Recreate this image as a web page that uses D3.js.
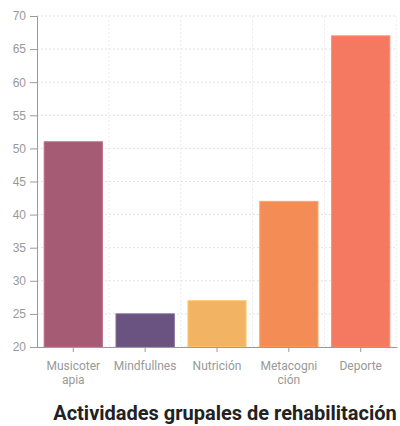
<!DOCTYPE html>
<html>
<head>
<meta charset="utf-8">
<script src="https://cdn.jsdelivr.net/npm/d3@7"></script>
<style>
  html, body { margin: 0; padding: 0; background: #fff; }
  svg { display: block; font-family: Roboto, "Liberation Sans", sans-serif; }
</style>
</head>
<body>
<svg id="chart" width="400" height="426"></svg>
<script>
// Activities and participant counts
const categories = ["Musicoterapia", "Mindfullnes", "Nutrición", "Metacognición", "Deporte"];
const labelLines = [["Musicoter", "apia"], ["Mindfullnes"], ["Nutrición"], ["Metacogni", "ción"], ["Deporte"]];
const values = [51, 25, 27, 42, 67];
const colors = ["#a65b74", "#6a5380", "#f2b363", "#f38d55", "#f57861"];
const yTicks = [20, 25, 30, 35, 40, 45, 50, 55, 60, 65, 70];
const title = "Actividades grupales de rehabilitación";

const svg = d3.select("#chart");
const margin = { left: 37, right: 3, top: 16, bottom: 79 };
const W = 400, H = 426;

const x = d3.scaleBand()
  .domain(categories)
  .range([margin.left, W - margin.right])
  .paddingInner(0.19)
  .paddingOuter(0.1);

const y = d3.scaleLinear()
  .domain([20, 70])
  .range([H - margin.bottom, margin.top]);

// Horizontal gridlines
svg.append("g")
  .selectAll("line")
  .data(yTicks)
  .join("line")
  .attr("x1", margin.left)
  .attr("x2", W - margin.right)
  .attr("y1", d => y(d))
  .attr("y2", d => y(d))
  .attr("stroke", "#e2e2e2")
  .attr("stroke-dasharray", "2,2");

// Vertical gridlines at band boundaries
const step = x.step();
const boundaries = categories.map((c, i) => margin.left + step * (i + 1));
svg.append("g")
  .selectAll("line")
  .data(boundaries)
  .join("line")
  .attr("x1", d => d)
  .attr("x2", d => d)
  .attr("y1", y(70))
  .attr("y2", y(20))
  .attr("stroke", "#ececec")
  .attr("stroke-dasharray", "2,2");

// Bars
svg.append("g")
  .selectAll("rect")
  .data(categories)
  .join("rect")
  .attr("x", d => x(d))
  .attr("width", x.bandwidth())
  .attr("y", (d, i) => y(values[i]))
  .attr("height", (d, i) => y(20) - y(values[i]))
  .attr("fill", (d, i) => colors[i])
  .attr("stroke", (d, i) => d3.color(colors[i]).brighter(0.4))
  .attr("stroke-width", 1);

// Y axis
const yAxis = svg.append("g")
  .attr("transform", `translate(${margin.left},0)`)
  .call(d3.axisLeft(y).tickValues(yTicks).tickSize(7).tickPadding(4));
yAxis.select(".domain").attr("stroke", "#9a9a9a");
yAxis.selectAll(".tick line").attr("stroke", "#9a9a9a");
yAxis.selectAll(".tick text")
  .attr("fill", "#999")
  .style("font-size", "12px");

// X axis
const xAxis = svg.append("g")
  .attr("transform", `translate(0,${y(20)})`)
  .call(d3.axisBottom(x).tickSize(5).tickSizeOuter(0).tickFormat(""));
xAxis.select(".domain").attr("stroke", "#9a9a9a");
xAxis.selectAll(".tick line").attr("stroke", "#9a9a9a");

// Wrapped category labels
const lbl = svg.append("g")
  .selectAll("text")
  .data(categories)
  .join("text")
  .attr("x", d => x(d) + x.bandwidth() / 2)
  .attr("y", y(20) + 23)
  .attr("text-anchor", "middle")
  .attr("fill", "#999")
  .style("font-size", "12px");
lbl.each(function(d, i) {
  const t = d3.select(this);
  labelLines[i].forEach((line, j) => {
    t.append("tspan")
      .attr("x", x(d) + x.bandwidth() / 2)
      .attr("dy", j === 0 ? 0 : 14)
      .text(line);
  });
});

// Title
svg.append("text")
  .attr("x", 225)
  .attr("y", 420)
  .attr("text-anchor", "middle")
  .attr("fill", "#222")
  .style("font-size", "20px")
  .style("font-weight", "bold")
  .text(title);
</script>
</body>
</html>
